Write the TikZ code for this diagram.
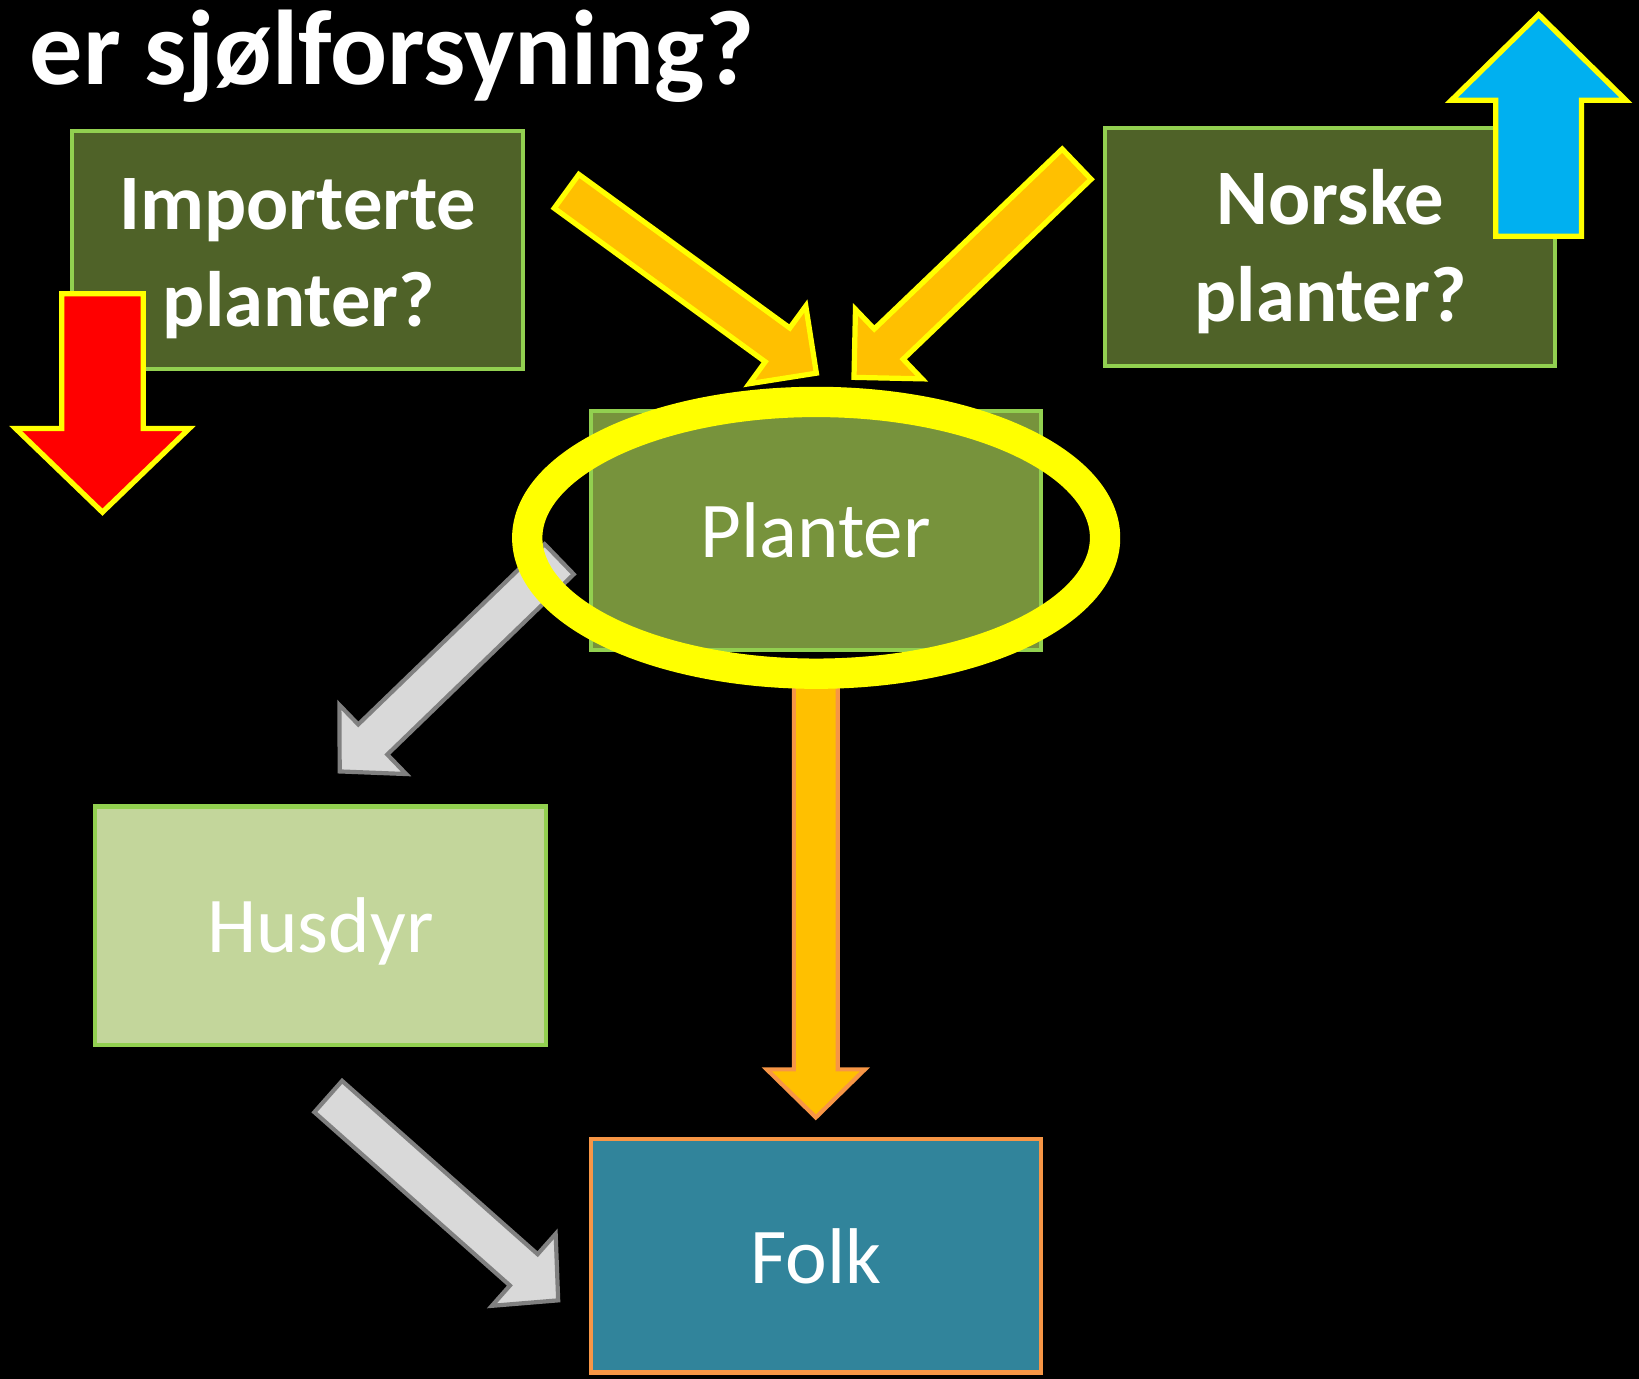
\documentclass[tikz,border=0pt]{standalone}
\usepackage{fontspec}
\setmainfont{Carlito}
\usetikzlibrary{calc}
\definecolor{olivedark}{HTML}{4F6228}
\definecolor{olivemid}{HTML}{77933C}
\definecolor{olivelight}{HTML}{C3D69B}
\definecolor{greenline}{HTML}{92D050}
\definecolor{tealbox}{HTML}{31849B}
\definecolor{orangeline}{HTML}{F79646}
\definecolor{amber}{HTML}{FFC000}
\definecolor{brightyellow}{HTML}{FFFF00}
\definecolor{skyblue}{HTML}{00B0F0}
\definecolor{lightgray}{HTML}{D9D9D9}
\definecolor{midgray}{HTML}{808080}
\newcommand{\myblockarrow}[6]{%
  \coordinate (ba-m) at ($(#3)!#6!(#2)$);
  \draw[#1] ($(#2)!#4!90:(#3)$) -- ($(ba-m)!#4!90:(#3)$) -- ($(ba-m)!#5!90:(#3)$) -- (#3)
    -- ($(ba-m)!#5!-90:(#3)$) -- ($(ba-m)!#4!-90:(#3)$) -- ($(#2)!#4!-90:(#3)$) -- cycle;
}
\tikzset{
  boxnode/.style={draw=greenline, line width=2pt, inner sep=0pt, minimum width=215.5pt, minimum height=114pt},
  boldtxt/.style={text=white, font=\bfseries\fontsize{37.6}{44}\selectfont, inner sep=0pt},
  plaintxt/.style={text=white, font=\fontsize{37.8}{44}\selectfont, text height=26pt, text depth=0pt},
  yellowedge/.style={draw=brightyellow, line width=2.5pt, line join=miter},
  grayarrow/.style={fill=lightgray, draw=midgray, line width=2pt, line join=miter},
  ringstyle/.style={draw=brightyellow, line width=14.5pt}
}
\begin{document}
\begin{tikzpicture}[x=0.5pt, y=-0.5pt]
\useasboundingbox (0,0) rectangle (1568,1319);
\fill[black] (0,0) rectangle (1568,1319);

% title
\node[anchor=base west, text=white, inner sep=0pt, font=\bfseries\fontsize{50.8}{60}\selectfont] (title) at (28,81) {er sjølforsyning?};

% boxes
\node[boxnode, fill=olivedark] (imp) at (284.5,239.3) {};
\node[boldtxt, anchor=base] (imp1) at (285,220) {Importerte};
\node[boldtxt, anchor=base] (imp2) at (286,312.5) {planter?};

\node[boxnode, fill=olivedark] (nor) at (1272.5,236.3) {};
\node[boldtxt, anchor=base] (nor1) at (1273,215) {Norske};
\node[boldtxt, anchor=base] (nor2) at (1273,307.7) {planter?};

\node[boxnode, fill=olivemid, plaintxt] (pla) at (780.5,507.5) {Planter};
\node[boxnode, fill=olivelight, plaintxt] (hus) at (306.5,885.5) {Husdyr};
\node[boxnode, draw=orangeline, fill=tealbox, plaintxt, minimum height=111.5pt] (folk) at (780.5,1201.5) {Folk};

% arrow end points
\coordinate (redtail) at (98,281);
\coordinate (redtip) at (98,490);
\coordinate (bluetail) at (1472,226);
\coordinate (bluetip) at (1472,14);
\coordinate (o1tail) at (542,183);
\coordinate (o1tip) at (781,357);
\coordinate (o2tail) at (1030,157);
\coordinate (o2tip) at (817,361);
\coordinate (g1tail) at (535,535);
\coordinate (g1tip) at (325,738);
\coordinate (g2tail) at (314,1049);
\coordinate (g2tip) at (534,1244);
\coordinate (dtail) at (780.5,640);
\coordinate (dtip) at (780.5,1069);

% arrows
\myblockarrow{fill=red, yellowedge}{redtail}{redtip}{19.5pt}{41.5pt}{40pt}
\myblockarrow{fill=skyblue, yellowedge}{bluetail}{bluetip}{20.5pt}{41.8pt}{41pt}
\myblockarrow{fill=amber, yellowedge}{o1tail}{o1tip}{10pt}{23pt}{23pt}
\myblockarrow{fill=amber, yellowedge}{o2tail}{o2tip}{10pt}{23pt}{23pt}
\myblockarrow{grayarrow}{g1tail}{g1tip}{10pt}{23pt}{22pt}
\myblockarrow{grayarrow}{g2tail}{g2tip}{10pt}{23pt}{22pt}
\myblockarrow{fill=amber, draw=orangeline, line width=2pt}{dtail}{dtip}{10.5pt}{23.5pt}{23pt}

% highlight ring
\draw[ringstyle] (780.8,514.5) ellipse [x radius=138.2pt, y radius=65pt];
\end{tikzpicture}
\end{document}
